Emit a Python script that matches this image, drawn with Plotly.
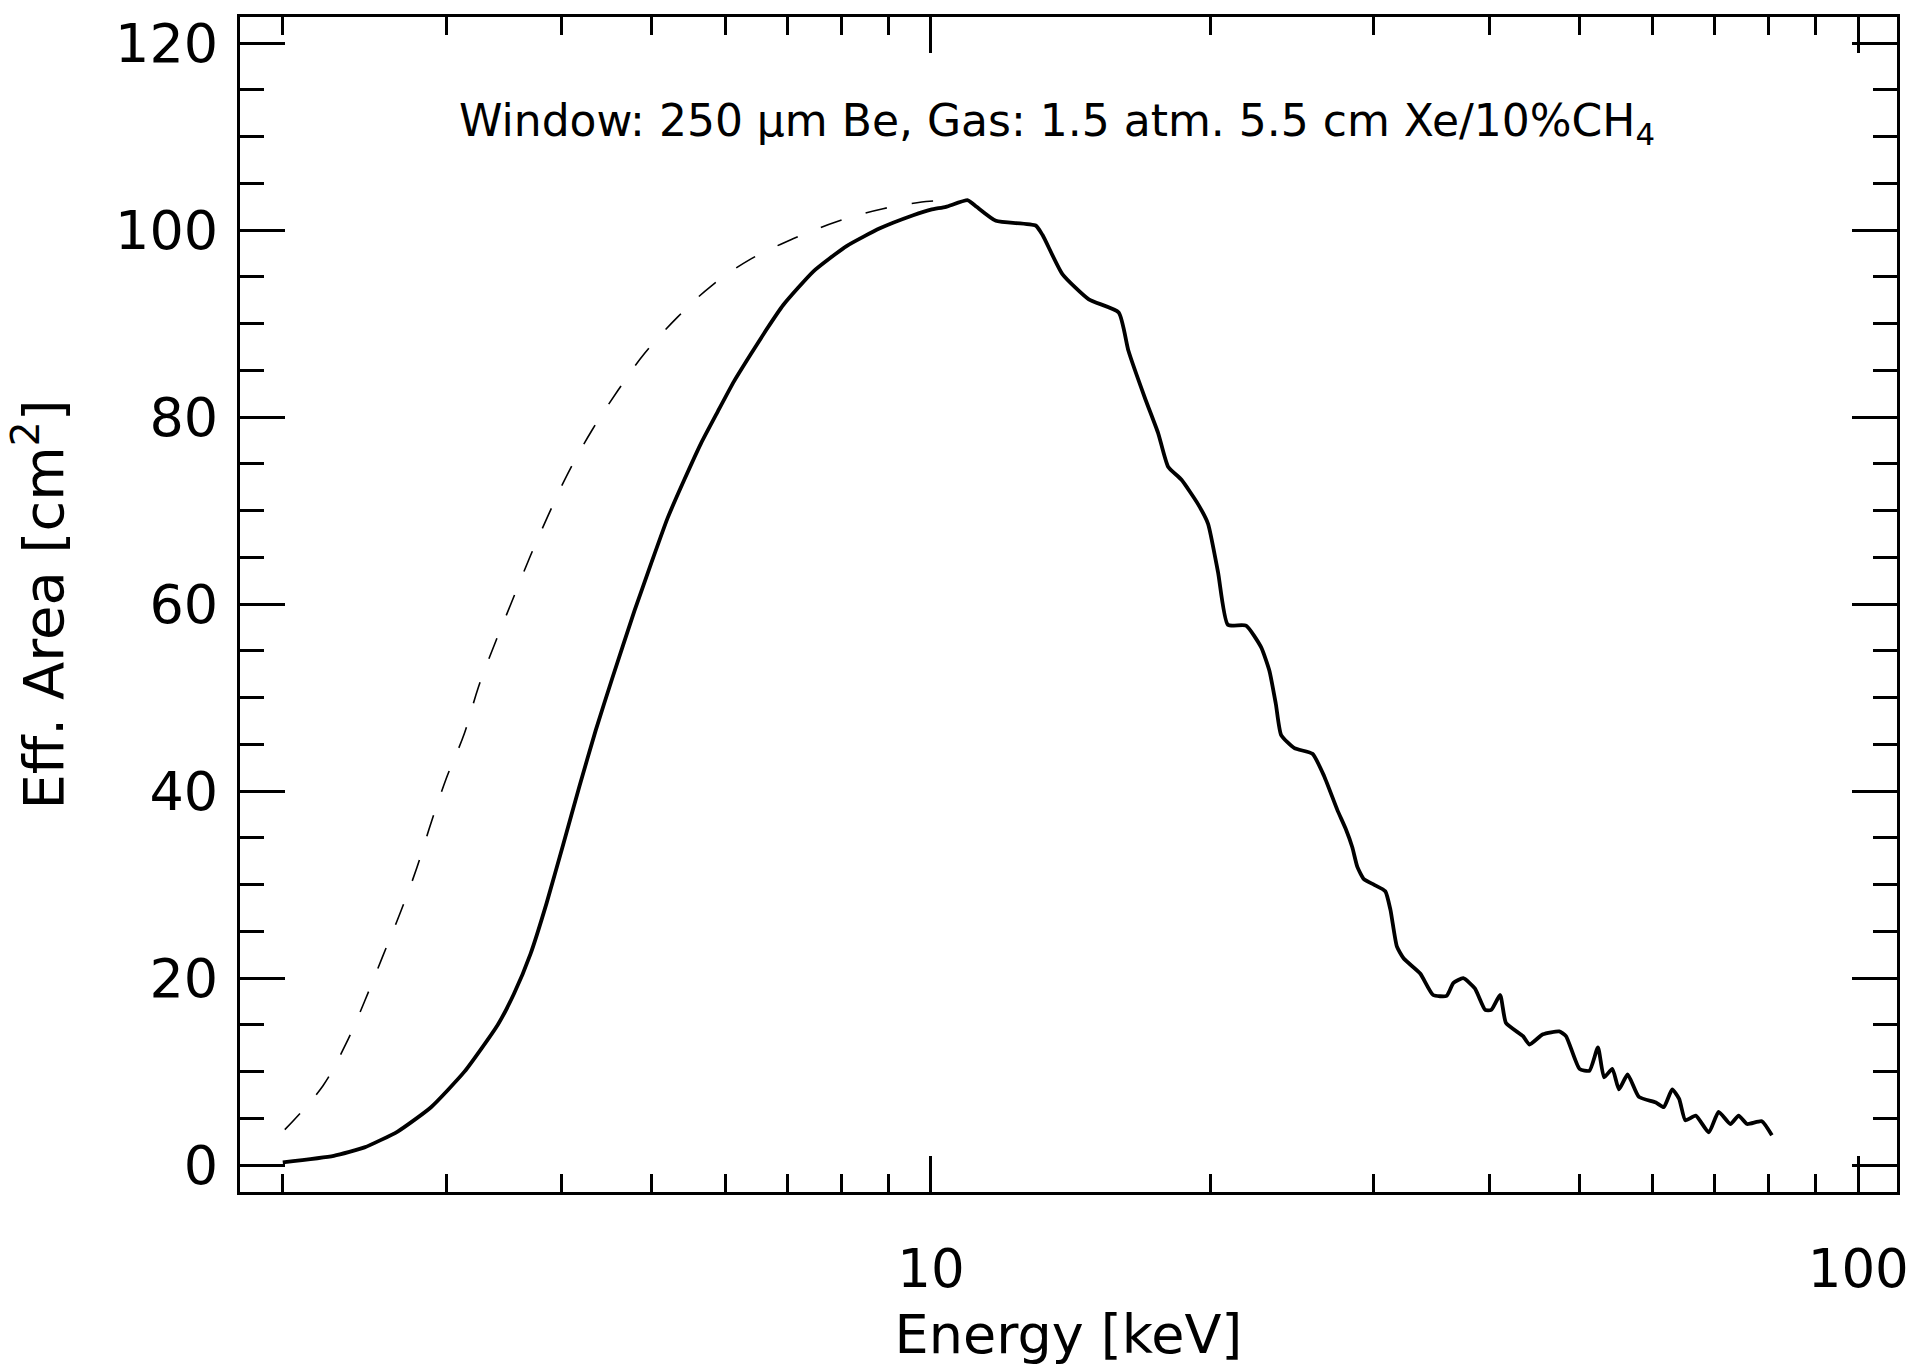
import plotly.graph_objects as go

# Solid curve: effective area (cm^2) vs energy (keV)
energy_solid = [2.0, 2.27, 2.45, 2.66, 2.89, 3.14, 3.41, 3.55, 3.70, 3.85, 4.01, 4.18, 4.35,
                4.53, 4.79, 4.99, 5.20, 5.42, 5.65, 5.89, 6.13, 6.39, 6.65, 6.93, 7.47, 8.11,
                8.81, 9.57, 10.0, 10.38, 10.96, 11.2, 11.75, 12.97, 13.19, 13.86, 14.8, 15.94,
                16.33, 17.02, 17.58, 18.02, 18.63, 19.41, 19.9, 20.4, 20.9, 21.87, 22.7, 23.17,
                23.55, 23.86, 24.66, 25.79, 26.55, 27.43, 28.0, 28.47, 28.83, 29.3, 30.04, 30.9,
                31.3, 31.8, 32.35, 33.7, 34.8, 35.98, 36.6, 37.5, 38.6, 39.6, 40.2, 41.1, 41.7,
                43.5, 44.2, 45.7, 47.6, 48.4, 50.05, 51.3, 52.4, 53.2, 54.3, 55.2, 56.4, 58.0,
                60.5, 61.7, 63.0, 64.1, 65.1, 66.8, 69.0, 70.7, 72.8, 74.3, 75.9, 78.7, 80.7]
area_solid = [0.3, 1.0, 1.9, 3.6, 6.2, 10.0, 15.0, 18.3, 22.6, 28.0, 34.2, 40.6, 46.5,
              52.0, 59.3, 64.3, 69.2, 73.3, 77.2, 80.6, 83.8, 86.7, 89.4, 92.0, 95.6, 98.3,
              100.2, 101.6, 102.2, 102.5, 103.2, 102.5, 101.0, 100.5, 99.5, 95.3, 92.6, 91.2,
              87.1, 82.0, 78.3, 74.7, 73.3, 70.7, 68.6, 63.4, 57.8, 57.7, 55.4, 52.9,
              49.3, 46.0, 44.6, 44.0, 41.6, 38.0, 36.0, 34.0, 31.9, 30.6, 30.0, 29.3,
              27.3, 23.4, 22.1, 20.5, 18.2, 18.1, 19.5, 20.0, 18.9, 16.6, 16.6, 18.2, 15.2,
              13.8, 12.9, 14.0, 14.3, 13.8, 10.3, 10.1, 12.6, 9.4, 10.3, 8.1, 9.7, 7.3,
              6.7, 6.2, 8.1, 7.1, 4.8, 5.3, 3.5, 5.7, 4.4, 5.3, 4.4, 4.7, 3.2]

# Dashed curve
energy_dashed = [2.01, 2.21, 2.34, 2.45, 2.56, 2.68, 2.79, 2.89, 3.00, 3.14, 3.25, 3.39, 3.53,
                 3.70, 3.87, 4.06, 4.31, 4.60, 4.91, 5.33, 5.79, 6.39, 7.11, 7.91, 8.88, 9.97, 10.3]
area_dashed = [3.8, 8.5, 13.0, 17.5, 22.2, 27.1, 31.8, 36.6, 41.3, 46.2, 51.1, 55.9, 60.2,
               65.2, 69.6, 74.0, 78.6, 82.9, 86.8, 90.7, 94.0, 96.9, 99.1, 100.9, 102.3, 103.1, 103.1]

x_major_ticks = [10, 100]
x_major_labels = ["10", "100"]
x_minor_ticks = [2, 3, 4, 5, 6, 7, 8, 9, 20, 30, 40, 50, 60, 70, 80, 90]
y_major_ticks = [0, 20, 40, 60, 80, 100, 120]
y_minor_ticks = [5, 10, 15, 25, 30, 35, 45, 50, 55, 65, 70, 75, 85, 90, 95, 105, 110, 115]

FONT = "DejaVu Sans"

fig = go.Figure()
fig.add_trace(go.Scatter(x=energy_dashed, y=area_dashed, mode="lines",
                         line=dict(color="black", width=1.6, dash="22px,25px", shape="spline"),
                         showlegend=False))
fig.add_trace(go.Scatter(x=energy_solid, y=area_solid, mode="lines",
                         line=dict(color="black", width=3.8, shape="spline", smoothing=0.5),
                         showlegend=False))

fig.update_layout(
    width=1921, height=1366,
    margin=dict(l=240, r=15, t=15, b=169, pad=0),
    paper_bgcolor="white", plot_bgcolor="white",
    font=dict(family=FONT, color="black"),
    annotations=[dict(
        text="Window: 250 μm Be, Gas: 1.5 atm. 5.5 cm Xe/10%CH<sub>4</sub>",
        xref="paper", yref="paper", x=0.493, y=0.9095,
        xanchor="center", yanchor="middle", showarrow=False,
        font=dict(family=FONT, size=44, color="black"))],
)

fig.update_xaxes(
    type="log", range=[0.2549, 2.0418],
    showline=True, linecolor="black", linewidth=3, mirror="ticks",
    showgrid=False, zeroline=False,
    ticks="inside", ticklen=36, tickwidth=3, tickcolor="black",
    tickmode="array", tickvals=x_major_ticks, ticktext=x_major_labels,
    tickfont=dict(family=FONT, size=53, color="black"),
    ticklabelstandoff=28,
    minor=dict(tickmode="array", tickvals=x_minor_ticks, ticks="inside",
               ticklen=18, tickwidth=3, tickcolor="black", showgrid=False),
    title=dict(text="Energy [keV]", font=dict(family=FONT, size=54, color="black"), standoff=18),
)
fig.update_yaxes(
    range=[-2.87, 122.8],
    showline=True, linecolor="black", linewidth=3, mirror="ticks",
    showgrid=False, zeroline=False,
    ticks="inside", ticklen=45, tickwidth=3, tickcolor="black",
    tickmode="array", tickvals=y_major_ticks,
    tickfont=dict(family=FONT, size=54, color="black"),
    ticklabelstandoff=8,
    minor=dict(tickmode="array", tickvals=y_minor_ticks, ticks="inside",
               ticklen=24, tickwidth=3, tickcolor="black", showgrid=False),
    title=dict(text="Eff. Area [cm<sup>2</sup>]", font=dict(family=FONT, size=56, color="black"), standoff=34),
)

fig.write_html("out.html", config={"displayModeBar": False},
               post_script="document.body.style.margin='0';document.body.style.overflow='hidden';")
